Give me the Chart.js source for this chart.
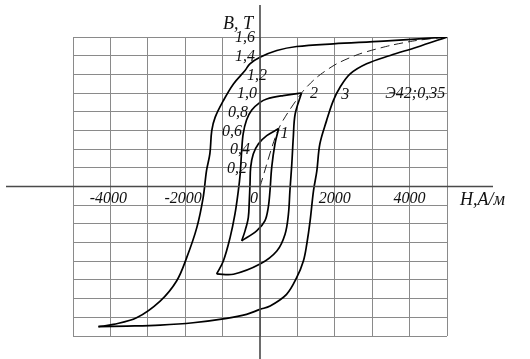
<!DOCTYPE html>
<html>
<head>
<meta charset="utf-8">
<script src="https://cdn.jsdelivr.net/npm/chart.js@4/dist/chart.umd.min.js"></script>
<style>
    body { margin: 0; background: #fff; }
    canvas { display: block; }
</style>
</head>
<body>
<canvas id="grafico" width="530" height="359"></canvas>
<script>
// петли гистерезиса, Э42 толщ. 0,35 (H в А/м, B в Тл)
const petlya3VerhH = [5000, 3300, 1960, 980, 450, 0, -270, -400, -710, -980, -1200, -1290, -1340, -1430, -1520, -1690, -1960, -2230, -2670, -3300, -3920, -4320];
const petlya3VerhB = [1.60, 1.555, 1.527, 1.498, 1.455, 1.383, 1.313, 1.241, 1.098, 0.919, 0.740, 0.597, 0.351, 0.17, -0.118, -0.440, -0.761, -1.011, -1.226, -1.405, -1.476, -1.50];
const petlya3NizH = [-4320, -3560, -2670, -1790, -890, -360, 0, 270, 710, 980, 1160, 1250, 1340, 1430, 1520, 1600, 1780, 1960, 2140, 2410, 2850, 3480, 4190, 5000];
const petlya3NizB = [-1.50, -1.494, -1.483, -1.458, -1.411, -1.368, -1.315, -1.279, -1.154, -0.976, -0.797, -0.618, -0.368, -0.046, 0.168, 0.455, 0.705, 0.919, 1.062, 1.205, 1.313, 1.402, 1.491, 1.60];

const petlya2VerhH = [1110, 620, 180, 0, -220, -360, -450, -490, -530, -580, -670, -800, -980, -1160];
const petlya2VerhB = [1.0, 0.973, 0.937, 0.90, 0.818, 0.711, 0.562, 0.383, 0.133, -0.046, -0.296, -0.547, -0.797, -0.936];
const petlya2NizH = [-1160, -710, 0, 450, 670, 760, 800, 850, 890, 940, 1110];
const petlya2NizB = [-0.936, -0.939, -0.83, -0.69, -0.51, -0.296, -0.046, 0.24, 0.525, 0.776, 1.0];

const petlya1VerhH = [500, 180, -45, -180, -250, -267, -286, -313, -400, -490];
const petlya1VerhB = [0.62, 0.544, 0.455, 0.347, 0.204, 0.026, -0.153, -0.332, -0.475, -0.582];
const petlya1NizH = [-490, -90, 130, 220, 267, 313, 400, 500];
const petlya1NizB = [-0.582, -0.475, -0.368, -0.225, -0.046, 0.204, 0.455, 0.62];

// основная кривая намагничивания (пунктир)
const osnovnayaH = [0, 500, 1110, 1520, 2050, 2670, 3480, 4190, 5000];
const osnovnayaB = [0, 0.62, 1.0, 1.169, 1.313, 1.42, 1.509, 1.563, 1.60];

const metkiH = [-4000, -2000, 0, 2000, 4000];
const tekstH = ["-4000", "-2000", "0", "2000", "4000"];
const metkiB = [1.6, 1.4, 1.2, 1.0, 0.8, 0.6, 0.4, 0.2];
const tekstB = ["1,6", "1,4", "1,2", "1,0", "0,8", "0,6", "0,4", "0,2"];

const nomeraPetel = ["1", "2", "3"];
const nomeraH = [550, 1340, 2170];
const nomeraB = [0.52, 0.95, 0.94];

function tochki(hs, bs) {
    return hs.map((h, i) => ({ x: h, y: bs[i] }));
}

function liniya(hs, bs) {
    return {
        data: tochki(hs, bs),
        showLine: true,
        borderColor: "#000",
        borderWidth: 1.7,
        pointRadius: 0,
        tension: 0.35,
        fill: false,
    };
}

// сдвиги подписей оси B (правый край подписи относительно оси)
const sdvigB = [-5, -5, 7, -3, -12, -18, -10, -13];
const shrift = 'italic 16px "Liberation Serif", "DejaVu Serif", serif';

const podpisi = {
    id: "podpisi",
    afterDraw(chart) {
        const ctx = chart.ctx;
        const sx = chart.scales.x;
        const sy = chart.scales.y;
        const area = chart.chartArea;
        const x0 = sx.getPixelForValue(0);
        const y0 = sy.getPixelForValue(0);

        ctx.save();
        ctx.strokeStyle = "#4a4a4a";
        ctx.lineWidth = 1.6;
        ctx.beginPath();
        ctx.moveTo(6, y0);
        ctx.lineTo(area.right + 46, y0);
        ctx.moveTo(x0, 5);
        ctx.lineTo(x0, chart.height);
        ctx.stroke();

        ctx.fillStyle = "#111";
        ctx.font = shrift;
        ctx.textBaseline = "middle";
        ctx.textAlign = "right";
        metkiB.forEach((b, i) => {
            ctx.fillText(tekstB[i], x0 + sdvigB[i], sy.getPixelForValue(b) + 1);
        });

        ctx.textBaseline = "alphabetic";
        metkiH.forEach((h, i) => {
            if (h === 0) {
                ctx.textAlign = "right";
                ctx.fillText(tekstH[i], x0 - 2, y0 + 16);
            } else {
                ctx.textAlign = "center";
                ctx.fillText(tekstH[i], sx.getPixelForValue(h) - (h < 0 ? 2 : 0), y0 + 16);
            }
        });

        ctx.textAlign = "left";
        nomeraPetel.forEach((t, i) => {
            ctx.fillText(t, sx.getPixelForValue(nomeraH[i]), sy.getPixelForValue(nomeraB[i]));
        });

        ctx.textAlign = "right";
        ctx.fillText("Э42;0,35", sx.getPixelForValue(4950), sy.getPixelForValue(0.95));

        ctx.font = 'italic 18px "Liberation Serif", "DejaVu Serif", serif';
        ctx.fillText("B, T", x0 - 7, area.top - 8);
        ctx.textAlign = "left";
        ctx.fillText("H,А/м", area.right + 13, y0 + 18);
        ctx.restore();
    },
};

const dannye = {
    datasets: [
        liniya(petlya3VerhH, petlya3VerhB),
        liniya(petlya3NizH, petlya3NizB),
        liniya(petlya2VerhH, petlya2VerhB),
        liniya(petlya2NizH, petlya2NizB),
        liniya(petlya1VerhH, petlya1VerhB),
        liniya(petlya1NizH, petlya1NizB),
        {
            data: tochki(osnovnayaH, osnovnayaB),
            showLine: true,
            borderColor: "#222",
            borderWidth: 1,
            borderDash: [9, 5],
            pointRadius: 0,
            tension: 0.25,
            fill: false,
        },
    ],
};

new Chart(document.getElementById("grafico").getContext("2d"), {
    type: "scatter",
    data: dannye,
    plugins: [podpisi],
    options: {
        responsive: false,
        animation: false,
        devicePixelRatio: 1,
        layout: {
            padding: { left: 73, right: 83, top: 37, bottom: 23 },
        },
        plugins: {
            legend: { display: false },
            tooltip: { enabled: false },
        },
        scales: {
            x: {
                type: "linear",
                min: -5000,
                max: 5000,
                ticks: { display: false, stepSize: 1000 },
                grid: { color: "#8a8a8a", lineWidth: 1, drawTicks: false },
                border: { display: false },
            },
            y: {
                type: "linear",
                min: -1.6,
                max: 1.6,
                ticks: { display: false, stepSize: 0.2 },
                grid: { color: "#8a8a8a", lineWidth: 1, drawTicks: false },
                border: { display: false },
            },
        },
    },
});
</script>
</body>
</html>
